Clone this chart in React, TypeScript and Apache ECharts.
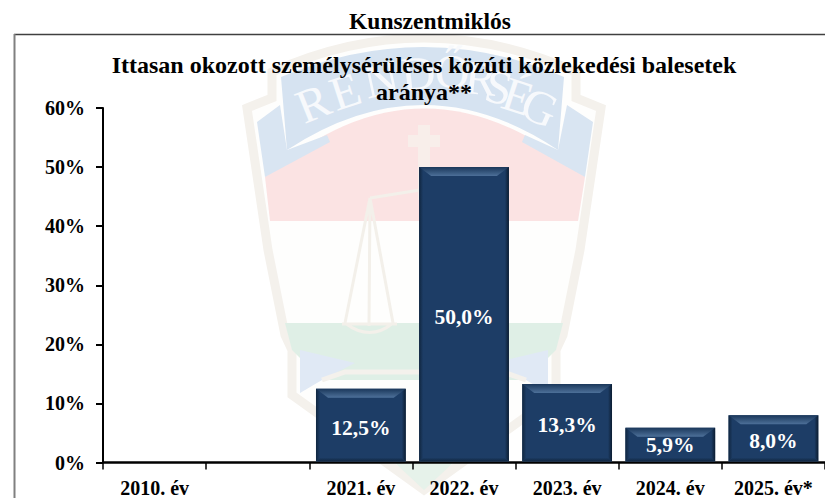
import React, { useEffect, useRef } from "react";
import * as echarts from "echarts";

const categories = ["2010. év", "", "2021. év", "2022. év", "2023. év", "2024. év", "2025. év*"];
const rates: (number | null)[] = [null, null, 12.5, 50.0, 13.3, 5.9, 8.0];
const labelOffsets = [0, 0, 2, 2, 2, 0, 2];
const pageTitle = "Kunszentmiklós";
const chartTitle = "Ittasan okozott személysérüléses közúti közlekedési balesetek\naránya**";
const watermarkLetters = [
  ["R", 313, 103, -22], ["E", 345, 91, -18], ["N", 381, 79, -12], ["D", 418, 73, -6], ["Ő", 452, 71, 0],
  ["R", 481, 78, 6], ["S", 499, 87, 12], ["É", 518, 96, 18], ["G", 540, 107, 24],
] as const;

const shapes: Record<string, string> = {
  emblemOuter: "M247 108 L272 98 L272 72 Q424 4 576 72 L576 98 L601 108 L580 250 L563 335 L556 350 L556 395 L424 490 L292 395 L292 350 L285 335 L268 250 Z",
  ribbonMain: "M281 77 Q424 17 564 77 L558 150 Q424 60 287 150 Z",
  ribbonLeft: "M257 122 L280 105 L287 150 L327 135 L330 142 L265 177 Z",
  ribbonRight: "M593 122 L567 105 L558 150 L525 135 L522 142 L585 177 Z",
  red: "M265 177 Q424 40 585 177 L578 221 L270 221 Z",
  green: "M285 323 L563 323 L556 350 L526 380 L322 380 L292 350 Z",
  greenTip: "M394 462 L454 462 L424 490 Z",
  blueLeft: "M300 350 L355 363 L322 380 L300 393 Z",
  blueRight: "M548 350 L493 363 L526 380 L548 393 Z",
  chevron: "M322 380 L345 372 L503 372 L526 380",
  scale: "M370 198 L345 323 Q370 342 393 323 L370 198 L369 326 M370 198 L420 190 M342 324 L397 324",
  cross: "M418 125 L430 125 L430 135 L440 135 L440 147 L430 147 L430 200 L418 200 L418 147 L408 147 L408 135 L418 135 Z",
};
Object.entries(shapes).forEach(([n, d]) => {
  echarts.graphic.registerShape(n, echarts.graphic.extendPath(d as any, {}) as any);
});

export default function App() {
  const ref = useRef<HTMLDivElement>(null);
  useEffect(() => {
    document.body.style.margin = "0";
    const chart = echarts.init(ref.current!, undefined, { renderer: "svg" });
    const font = "'Liberation Serif', 'Times New Roman', serif";
    const emblem = (type: string, style: any) => ({ type, silent: true, z: -10, style });
    chart.setOption({
      animation: false,
      backgroundColor: "#ffffff",
      textStyle: { fontFamily: font },
      title: [
        { text: pageTitle, left: 425, top: 4, textAlign: "center", textStyle: { fontFamily: font, fontSize: 23.5, fontWeight: "bold", color: "#000" } },
        { text: chartTitle, left: 419, top: 46, textAlign: "center", textStyle: { fontFamily: font, fontSize: 24, fontWeight: "bold", color: "#000", lineHeight: 27, align: "center" } },
      ],
      graphic: [
        { type: "line", silent: true, z: -5, shape: { x1: 14, y1: 34.5, x2: 825, y2: 34.5 }, style: { stroke: "#404040", lineWidth: 1.5 } },
        { type: "line", silent: true, z: -5, shape: { x1: 14.5, y1: 34, x2: 14.5, y2: 498 }, style: { stroke: "#808080", lineWidth: 2 } },
        emblem("emblemOuter", { fill: "#fefefd", stroke: "#f4f1ec", lineWidth: 9 }),
        emblem("red", { fill: "#fbe3e3" }),
        emblem("ribbonLeft", { fill: "#d9e5f2" }),
        emblem("ribbonRight", { fill: "#d9e5f2" }),
        emblem("ribbonMain", { fill: "#d6e3f1" }),
        emblem("green", { fill: "#dfefe6" }),
        emblem("greenTip", { fill: "#e6f2ea" }),
        emblem("blueLeft", { fill: "#e0e9f5" }),
        emblem("blueRight", { fill: "#e0e9f5" }),
        emblem("chevron", { fill: "none", stroke: "#f4f1ec", lineWidth: 5 }),
        emblem("scale", { fill: "none", stroke: "#f3f0ea", lineWidth: 3 }),
        emblem("cross", { fill: "#f8eeea" }),
        ...watermarkLetters.map(([t, x, y, r]) => ({
          type: "text", silent: true, z: -9, x, y, rotation: (-r * Math.PI) / 180,
          style: { text: t, fontFamily: font, fontSize: 48, fill: "#f7f9fc", align: "center", verticalAlign: "middle" },
        })),
      ],
      grid: { left: 103, right: 0, top: 108, bottom: 35.5, containLabel: false },
      xAxis: {
        type: "category", data: categories, boundaryGap: true,
        axisLine: { lineStyle: { color: "#000", width: 2.5 } },
        axisTick: { show: true, alignWithLabel: false, length: 7, lineStyle: { color: "#000", width: 1.5 } },
        axisLabel: { interval: 0, margin: 15, fontFamily: font, fontSize: 20, fontWeight: "bold", color: "#000" },
      },
      yAxis: {
        type: "value", min: 0, max: 60, interval: 10, splitLine: { show: false },
        axisLine: { show: true, lineStyle: { color: "#000", width: 2 } },
        axisTick: { show: true, length: 7, lineStyle: { color: "#000", width: 2 } },
        axisLabel: { margin: 18, padding: [4, 0, 0, 0], formatter: "{value}%", fontFamily: font, fontSize: 20, fontWeight: "bold", color: "#000" },
      },
      series: [
        {
          type: "custom", clip: false, z: 3,
          data: rates.map((v, i) => [i, v]),
          encode: { x: 0, y: 1 },
          renderItem: (_: any, api: any) => {
            const v = api.value(1);
            if (v == null || isNaN(v)) return;
            const i = api.value(0);
            const top = api.coord([i, v]);
            const base = api.coord([i, 0]);
            const w = api.size([1, 0])[0] * 0.87;
            const l = top[0] - w / 2, r = top[0] + w / 2, t = top[1], b = base[1] - 1;
            const bw = 4;
            const grad = (x2: number, y2: number, c1: string, c2: string) =>
              new echarts.graphic.LinearGradient(0, 0, x2, y2, [{ offset: 0, color: c1 }, { offset: 1, color: c2 }]);
            const poly = (pts: number[][], fill: any) => ({ type: "polygon", shape: { points: pts }, style: { fill } });
            return {
              type: "group",
              children: [
                { type: "rect", shape: { x: l, y: t, width: r - l, height: b - t }, style: { fill: "#1d3d66" } },
                poly([[l, t], [r, t], [r - 12, t + 9], [l + 12, t + 9]], grad(0, 1, "#1a375a", "#4d7099")),
                poly([[l, t], [l + bw, t + 3], [l + bw, b - bw], [l, b]], grad(1, 0, "#10263f", "#1d3d66")),
                poly([[r, t], [r - bw, t + 3], [r - bw, b - bw], [r, b]], grad(1, 0, "#1d3d66", "#0b1c30")),
                poly([[l, b], [l + bw, b - bw], [r - bw, b - bw], [r, b]], grad(0, 1, "#1d3d66", "#10263f")),
              ],
            };
          },
        },
        {
          type: "custom", z: 5, silent: true,
          data: rates.map((v, i) => [i, v, labelOffsets[i]]),
          encode: { x: 0, y: 1 },
          renderItem: (_: any, api: any) => {
            const v = api.value(1);
            if (v == null || isNaN(v)) return;
            const i = api.value(0);
            const p = api.coord([i, v / 2]);
            return {
              type: "text",
              x: p[0], y: p[1] + api.value(2),
              style: { text: v.toFixed(1).replace(".", ",") + "%", fontFamily: font, fontSize: 21.5, fontWeight: "bold", fill: "#fff", align: "center", verticalAlign: "middle" },
            };
          },
        },
      ],
    });
    return () => chart.dispose();
  }, []);
  return <div ref={ref} style={{ width: 825, height: 498 }} />;
}
